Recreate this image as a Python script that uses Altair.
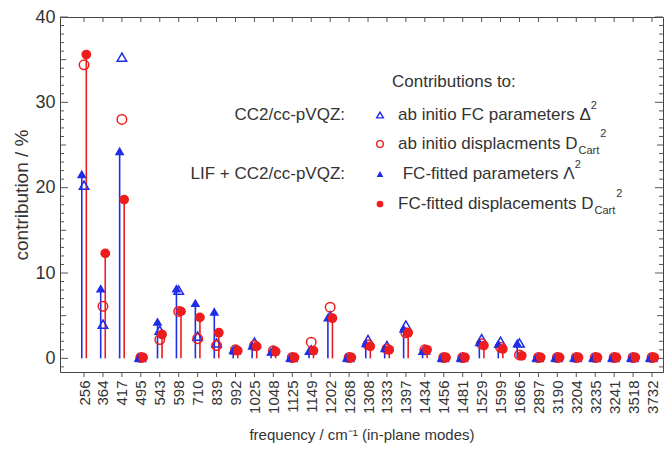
import altair as alt
import pandas as pd

freq_labels = ["256", "364", "417", "495", "543", "598", "710", "839", "992", "1025",
               "1048", "1125", "1149", "1202", "1268", "1308", "1333", "1397", "1434",
               "1456", "1481", "1529", "1599", "1686", "2897", "3190", "3204", "3235",
               "3241", "3518", "3732"]

# ab initio FC parameters Delta^2 (open triangles)
ab_initio_delta2 = [20.3, 4.0, 35.3, 0.1, 3.3, 8.0, 2.6, 1.8, 1.0, 1.9,
                    0.9, 0.1, 1.0, 5.0, 0.1, 2.2, 1.5, 3.9, 1.0,
                    0.1, 0.1, 2.3, 2.0, 1.8, 0.1, 0.1, 0.1, 0.1,
                    0.1, 0.1, 0.1]
# ab initio displacements D_Cart^2 (open circles)
ab_initio_dcart2 = [34.4, 6.1, 28.0, 0.1, 2.2, 5.5, 2.3, 1.5, 1.0, 1.5,
                    0.9, 0.1, 1.9, 6.0, 0.1, 1.6, 1.1, 3.0, 1.0,
                    0.1, 0.1, 1.7, 1.3, 0.4, 0.1, 0.1, 0.1, 0.1,
                    0.1, 0.1, 0.1]
# FC-fitted parameters Lambda^2 (filled triangles)
fitted_lambda2 = [21.6, 8.2, 24.3, 0.1, 4.3, 8.2, 6.5, 5.5, 1.0, 1.5,
                  0.8, 0.1, 0.9, 4.8, 0.1, 1.8, 1.2, 3.5, 0.9,
                  0.1, 0.1, 1.9, 1.7, 1.8, 0.1, 0.1, 0.1, 0.1,
                  0.1, 0.1, 0.1]
# FC-fitted displacements D_Cart^2 (filled circles)
fitted_dcart2 = [35.6, 12.3, 18.6, 0.1, 2.8, 5.5, 4.8, 3.0, 0.9, 1.4,
                 0.8, 0.1, 0.9, 4.7, 0.1, 1.4, 1.0, 3.0, 1.0,
                 0.1, 0.1, 1.5, 1.1, 0.3, 0.1, 0.1, 0.1, 0.1,
                 0.1, 0.1, 0.1]

y_label_values = [0, 10, 20, 30, 40]
y_major_ticks = [0, 10, 20, 30, 40]
y_mid_ticks = [5, 15, 25, 35]
y_minor_ticks = [v for v in range(-1, 41) if v % 5 != 0]

legend_header = "Contributions to:"
legend_groups = ["CC2/cc-pVQZ:", "LIF + CC2/cc-pVQZ:"]
legend_labels = ["ab initio FC parameters \u0394", "ab initio displacments D",
                 " FC-fitted parameters \u039b", "FC-fitted displacements D"]
sub_text = "Cart"
sup_text = "2"

series_keys = ["abDelta", "abD", "fitLambda", "fitD"]
rows = []
for key, vals in zip(series_keys, [ab_initio_delta2, ab_initio_dcart2, fitted_lambda2, fitted_dcart2]):
    for i, v in enumerate(vals):
        rows.append({"idx": i, "freq": freq_labels[i], "series": key, "value": v})
df = pd.DataFrame(rows)

W, H = 603, 355
BLUE = "#1e2de6"
RED = "#ee1d1d"
TXT = "#333333"
TICK = "#555555"
FONT = "Liberation Sans"

# Arial / Liberation Sans advance widths (per 1000 em) for legend layout
ADV = {"a": 556, "b": 556, "c": 500, "d": 556, "e": 556, "f": 278, "i": 222,
       "l": 222, "m": 833, "n": 556, "o": 556, "p": 556, "r": 333, "s": 500,
       "t": 278, " ": 278, "F": 611, "C": 722, "D": 722, "-": 333,
       "\u0394": 668, "\u039b": 667}


def text_width(s, size):
    return sum(ADV.get(ch, 556) for ch in s) * size / 1000.0


color_scale = alt.Scale(domain=series_keys, range=[BLUE, RED, BLUE, RED])
shape_scale = alt.Scale(domain=series_keys, range=["triangle-up", "circle", "triangle-up", "circle"])
x_scale = alt.Scale(domain=[-1.27, 30.58], nice=False, zero=False)
y_scale = alt.Scale(domain=[-1.6, 40], nice=False, zero=False)

label_expr = "[" + ",".join("'%s'" % f for f in freq_labels) + "][datum.value]"

base = alt.Chart(df).transform_calculate(
    xpos="datum.idx + (datum.series === 'fitLambda' ? -0.12 : (datum.series === 'fitD' ? 0.12 : 0))"
)

x_bottom = alt.X("xpos:Q", scale=x_scale, axis=alt.Axis(
    values=list(range(len(freq_labels))), labelExpr=label_expr, labelAngle=270,
    labelAlign="right", labelBaseline="middle", labelFontSize=15, labelColor=TXT,
    labelPadding=8, ticks=False, domain=False, grid=False,
    title="frequency / cm\u207b\u00b9 (in-plane modes)", titleFontSize=15,
    titleColor=TXT, titlePadding=14, titleFontWeight="normal"))
y_left = alt.Y("value:Q", scale=y_scale, axis=alt.Axis(
    values=y_label_values, ticks=False, labelPadding=5, labelFontSize=18,
    labelColor=TXT, domain=False, grid=False, title="contribution / %",
    titleFontSize=19, titleColor=TXT, titlePadding=3, titleFontWeight="normal"))

color = alt.Color("series:N", scale=color_scale, legend=None)
shape = alt.Shape("series:N", scale=shape_scale, legend=None)


# ---- tick marks drawn through the scales ----
def y_tick_layer(values, length):
    d = alt.Chart(pd.DataFrame({"v": values}))
    y = alt.Y("v:Q", scale=y_scale, axis=None)
    left = d.mark_rule(color=TICK, strokeWidth=1).encode(
        y=y, x=alt.value(0), x2=alt.value(length))
    right = d.mark_rule(color=TICK, strokeWidth=1).encode(
        y=y, x=alt.value(W - length), x2=alt.value(W))
    return [left, right]


xt = alt.Chart(pd.DataFrame({"i": list(range(len(freq_labels)))}))
x_ticks_top = xt.mark_rule(color=TICK, strokeWidth=1).encode(
    x=alt.X("i:Q", scale=x_scale, axis=None), y=alt.value(0), y2=alt.value(5))
x_ticks_bottom = xt.mark_rule(color=TICK, strokeWidth=1).encode(
    x=alt.X("i:Q", scale=x_scale, axis=None), y=alt.value(H), y2=alt.value(H + 5))

tick_layers = (y_tick_layer(y_minor_ticks, 4) + y_tick_layer(y_mid_ticks, 6)
               + y_tick_layer(y_major_ticks, 8) + [x_ticks_top, x_ticks_bottom])

# stems first: this layer carries the axes
stems = base.transform_filter(
    "datum.series === 'fitLambda' || datum.series === 'fitD'"
).mark_rule(strokeWidth=1.6).encode(
    x=x_bottom, y=y_left, y2=alt.datum(0), color=color)

open_pts = base.transform_filter(
    "datum.series === 'abDelta' || datum.series === 'abD'"
).mark_point(filled=False, size=90, strokeWidth=1.5, opacity=1).encode(
    x=alt.X("xpos:Q", scale=x_scale, axis=None),
    y=alt.Y("value:Q", scale=y_scale, axis=None),
    color=color, shape=shape)

filled_pts = base.transform_filter(
    "datum.series === 'fitLambda' || datum.series === 'fitD'"
).mark_point(filled=True, size=95, opacity=1).encode(
    x=alt.X("xpos:Q", scale=x_scale, axis=None),
    y=alt.Y("value:Q", scale=y_scale, axis=None),
    color=color, shape=shape)


def txt(s, x, y, size=17, align="left"):
    return alt.Chart(pd.DataFrame({"t": [s]})).mark_text(
        font=FONT, fontSize=size, color=TXT, align=align, baseline="middle"
    ).encode(text="t:N", x=alt.value(x), y=alt.value(y))


def sym(x, y, shp, col, filled):
    return alt.Chart(pd.DataFrame({"t": [0]})).mark_point(
        shape=shp, color=col, filled=filled, size=45, strokeWidth=1.4, opacity=1
    ).encode(x=alt.value(x), y=alt.value(y))


LF = 17      # legend font size
SF = 11      # sub/superscript font size
rows_y = [98, 127, 157, 187]
SX = 320
TX = 338
legend_layers = [
    txt(legend_header, 332, 65),
    txt(legend_groups[0], 285, rows_y[0], align="right"),
    txt(legend_groups[1], 285, rows_y[2], align="right"),
    sym(SX, rows_y[0], "triangle-up", BLUE, False),
    sym(SX, rows_y[1], "circle", RED, False),
    sym(SX, rows_y[2], "triangle-up", BLUE, True),
    sym(SX, rows_y[3], "circle", RED, True),
]
for k, lab in enumerate(legend_labels):
    y0 = rows_y[k]
    body = lab.lstrip()
    x0 = TX + text_width(lab[:len(lab) - len(body)], LF)
    w = text_width(body, LF)
    legend_layers.append(txt(body, x0, y0, size=LF))
    if body.endswith("D"):
        legend_layers.append(txt(sub_text, x0 + w + 1, y0 + 7, size=SF))
        legend_layers.append(txt(sup_text, x0 + w + 2 + text_width(sub_text, SF), y0 - 10, size=SF))
    else:
        legend_layers.append(txt(sup_text, x0 + w, y0 - 9, size=SF))

chart = alt.layer(stems, *tick_layers, open_pts, filled_pts, *legend_layers).resolve_axis(
    x="independent", y="independent"
).properties(
    width=W, height=H,
    padding={"left": 60, "top": 17, "right": 4, "bottom": 78},
    autosize=alt.AutoSizeParams(type="none"),
    background="white",
).configure_view(stroke="#444", strokeWidth=1).configure_axis(
    labelFont=FONT, titleFont=FONT
)

chart.save("out.html", embed_options={"renderer": "svg", "actions": False})
